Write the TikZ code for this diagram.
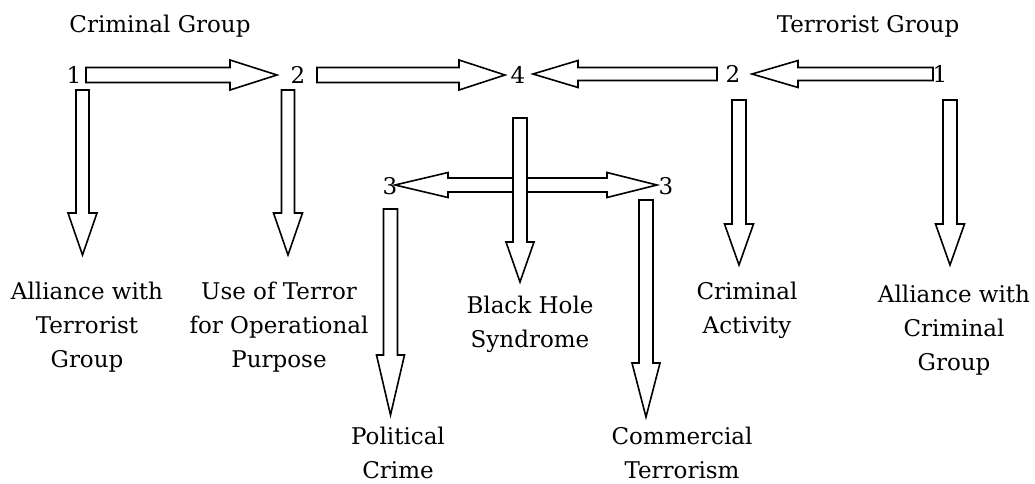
\documentclass[tikz,border=0pt]{standalone}
\usepackage{fontspec}
\setmainfont{DejaVu Serif}
\usetikzlibrary{calc}

\tikzset{
  lbl/.style={font=\fontsize{17.25}{25.5}\selectfont, align=center, inner sep=0pt, anchor=base},
  num/.style={font=\fontsize{17.25}{25.5}\selectfont, inner sep=0pt},
  blockarrow/.style={draw, line width=1.2pt, fill=white, line join=miter}
}

% hollow block arrow: #1 shaft half width, #2 head half width, #3 head length (px), #4 tail, #5 tip
\newcommand{\blockarrow}[5]{%
  \coordinate (ba-t) at (#4);
  \coordinate (ba-p) at (#5);
  \coordinate (ba-h) at ($(ba-p)!#3*0.75pt!(ba-t)$);
  \draw[blockarrow] ($(ba-t)!#1*0.75pt!90:(ba-p)$)
    -- ($(ba-h)!#1*0.75pt!90:(ba-p)$)
    -- ($(ba-h)!#2*0.75pt!90:(ba-p)$)
    -- (ba-p)
    -- ($(ba-h)!#2*0.75pt!-90:(ba-p)$)
    -- ($(ba-h)!#1*0.75pt!-90:(ba-p)$)
    -- ($(ba-t)!#1*0.75pt!-90:(ba-p)$)
    -- cycle;
}

\begin{document}
\begin{tikzpicture}[x=0.75pt, y=-0.75pt]

  % The frame
  \useasboundingbox (0,0) rectangle (1035,483);

  \def \shaft {6.5}
  \def \head  {14.5}

  % Group titles
  \node[lbl] (crimGroup) at (160,32) {Criminal Group};
  \node[lbl] (terrGroup) at (868,32) {Terrorist Group};

  % Stage numbers
  \node[num] (c1)   at (74,75)  {1};
  \node[num] (c2)   at (298,75) {2};
  \node[num] (hole) at (518,75) {4};
  \node[num] (t2)   at (733,74) {2};
  \node[num] (t1)   at (940,74) {1};
  \node[num] (p3)   at (390,186) {3};
  \node[num] (k3)   at (666,186) {3};

  % Outcomes (base = last line)
  \node[lbl] (allyTerr)  at (87,367)  {Alliance with\\Terrorist\\Group};
  \node[lbl] (useTerr)   at (279,367) {Use of Terror\\for Operational\\Purpose};
  \node[lbl] (polCrime)  at (398,478) {Political\\Crime};
  \node[lbl] (blackHole) at (530,347) {Black Hole\\Syndrome};
  \node[lbl] (comTerr)   at (682,478) {Commercial\\Terrorism};
  \node[lbl] (crimAct)   at (747,333) {Criminal\\Activity};
  \node[lbl] (allyCrim)  at (954,370) {Alliance with\\Criminal\\Group};

  % Upper row, criminal side
  \blockarrow{7.5}{15}{47}{$(c1)+(12,0)$}{$(c2)+(-21,0)$}
  \blockarrow{7.5}{15}{46}{$(c2)+(19,0)$}{$(hole)+(-13,0)$}

  % Upper row, terrorist side
  \blockarrow{\shaft}{13.5}{45}{$(t2)+(-16,0)$}{$(hole)+(15,-1)$}
  \blockarrow{\shaft}{13.5}{46}{$(t1)+(-7,0)$}{$(t2)+(19,0)$}

  % Down lines from the upper row
  \blockarrow{\shaft}{\head}{42}{$(c1)+(8.5,15)$}{$(allyTerr.base)+(-4.5,-112)$}
  \blockarrow{\shaft}{\head}{42}{$(c2)+(-10,15)$}{$(useTerr.base)+(9,-112)$}
  \blockarrow{7}{\head}{41}{$(t2)+(6,26)$}{$(crimAct.base)+(-8,-68)$}
  \blockarrow{7}{\head}{41}{$(t1)+(10,26)$}{$(allyCrim.base)+(-4,-105)$}

  % Double arrow to both 3
  \coordinate (mid) at ($(hole)+(2,110)$);
  \blockarrow{7}{12.5}{53}{mid}{$(p3)+(5,-1)$}
  \blockarrow{7}{12.5}{50}{mid}{$(k3)+(-9,-1)$}

  % Black hole line (on top)
  \blockarrow{7}{14}{40}{$(hole)+(2,43)$}{$(blackHole.base)+(-10,-65)$}

  % Down lines from the 3
  \blockarrow{7}{14}{60}{$(p3)+(0.5,23)$}{$(polCrime.base)+(-7.5,-63)$}
  \blockarrow{7}{14}{54}{$(k3)+(-20,14)$}{$(comTerr.base)+(-36,-61)$}

\end{tikzpicture}
\end{document}
